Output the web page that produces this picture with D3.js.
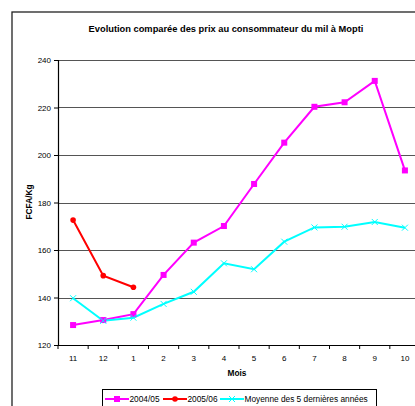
<!DOCTYPE html>
<html><head><meta charset="utf-8">
<script src="https://cdn.jsdelivr.net/npm/d3@7"></script>
<style>body{margin:0;background:#fff;overflow:hidden}svg{display:block;font-family:"Liberation Sans",Arial,sans-serif}</style>
</head><body><div id="chart"></div>
<script>
const months = ["11","12","1","2","3","4","5","6","7","8","9","10"];
const s2004 = [128.4,130.5,133,149.5,163.1,170.1,187.8,205.2,220.3,222.2,231.2,193.5];
const s2005 = [172.6,149.2,144.3];
const sMoy = [139.7,130.2,131.5,137.3,142.4,154.4,151.9,163.5,169.5,169.8,171.8,169.4];
const yTicks = [120,140,160,180,200,220,240];
const seriesNames = ["2004/05","2005/06","Moyenne des 5 dernières années"];
const colors = ["#ff00ff","#ff0000","#00ffff"];

const W=415,H=406;
const FF="'Liberation Sans',Arial,sans-serif";
const svg=d3.select("#chart").append("svg").attr("width",W).attr("height",H);
svg.append("rect").attr("x",12).attr("y",12).attr("width",430).attr("height",430).attr("fill","none").attr("stroke","#222").attr("stroke-width",1.3);
svg.append("text").attr("x",226).attr("y",32).attr("text-anchor","middle").attr("font-size",9.3).attr("font-weight","bold").text("Evolution comparée des prix au consommateur du mil à Mopti");

const L=58,R=420,T=60,B=345;
const x=d3.scaleBand().domain(months).range([L,R]);
const y=d3.scaleLinear().domain([120,240]).range([B,T]);

const g=svg.append("g");
g.selectAll("line.grid").data(yTicks.slice(1)).join("line").attr("class","grid")
 .attr("x1",L).attr("x2",R).attr("y1",d=>Math.round(y(d))+0.5).attr("y2",d=>Math.round(y(d))+0.5).attr("stroke","#555").attr("stroke-width",1);

const ya=g.append("g").attr("transform",`translate(${L},0)`).call(d3.axisLeft(y).tickValues(yTicks).tickSize(4).tickPadding(3));
ya.select(".domain").attr("stroke","#000").attr("stroke-width",1.2);
ya.selectAll("text").attr("font-size",8).attr("font-family",FF);
const xa=g.append("g").attr("transform",`translate(0,${B})`).call(d3.axisBottom(x).tickSize(0).tickPadding(10));
xa.select(".domain").attr("stroke","#000").attr("stroke-width",1.2);
xa.selectAll("text").attr("font-size",8).attr("font-family",FF);
g.selectAll("line.xt").data(months).join("line").attr("class","xt")
 .attr("x1",d=>x(d)).attr("x2",d=>x(d)).attr("y1",B).attr("y2",B+4).attr("stroke","#000");

svg.append("text").attr("transform","translate(32,202) rotate(-90)").attr("text-anchor","middle").attr("font-size",8.3).attr("font-weight","bold").text("FCFA/Kg");
svg.append("text").attr("x",237).attr("y",376).attr("text-anchor","middle").attr("font-size",8.3).attr("font-weight","bold").text("Mois");

const cx=d=>x(d)+x.bandwidth()/2;
const line=d3.line().x((d,i)=>cx(months[i])).y(d=>y(d));
const data=[s2004,s2005,sMoy];
data.forEach((s,k)=>{
  g.append("path").attr("d",line(s)).attr("fill","none").attr("stroke",colors[k]).attr("stroke-width",2);
});
function marker(sel,k,px,py){
  if(k===0) sel.append("rect").attr("x",px-3).attr("y",py-3).attr("width",6).attr("height",6).attr("fill",colors[0]);
  else if(k===1) sel.append("circle").attr("cx",px).attr("cy",py).attr("r",2.8).attr("fill",colors[1]);
  else sel.append("path").attr("d",`M${px-3},${py-3}L${px+3},${py+3}M${px-3},${py+3}L${px+3},${py-3}`).attr("stroke",colors[2]).attr("stroke-width",1);
}
data.forEach((s,k)=>s.forEach((v,i)=>marker(g,k,cx(months[i]),y(v))));

// legend
const lg=svg.append("g");
lg.append("rect").attr("x",102.5).attr("y",389.5).attr("width",274).attr("height",24).attr("fill","#fff").attr("stroke","#000").attr("stroke-width",1);
const lx=[105,163,220];
seriesNames.forEach((n,k)=>{
  const y0=399;
  lg.append("line").attr("x1",lx[k]).attr("x2",lx[k]+24).attr("y1",y0).attr("y2",y0).attr("stroke",colors[k]).attr("stroke-width",2);
  marker(lg,k,lx[k]+12,y0);
  lg.append("text").attr("x",lx[k]+24.5).attr("y",y0+3).attr("font-size",8.3).text(n);
});
</script></body></html>
